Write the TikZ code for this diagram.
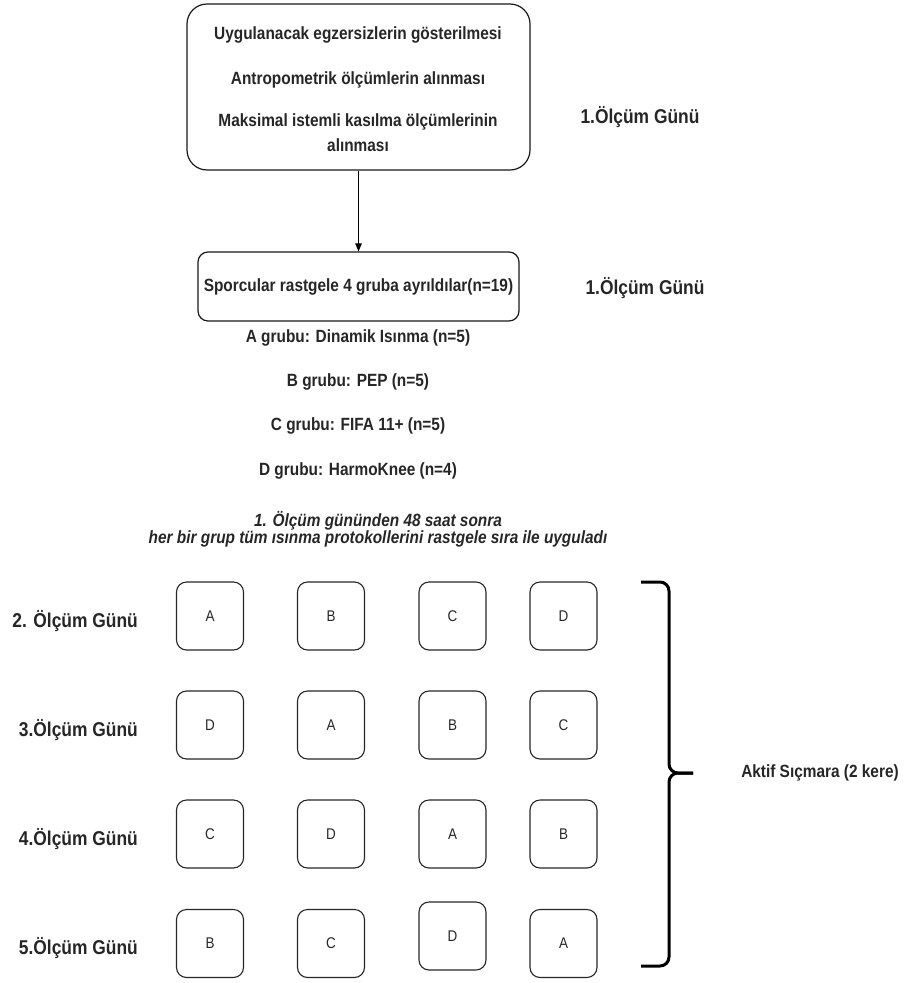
\documentclass[tikz,border=0pt]{standalone}
\usepackage{fontspec}
\setmainfont{Liberation Sans}[FakeStretch=0.87]
\usetikzlibrary{arrows.meta}
\begin{document}
\begin{tikzpicture}[x=1pt,y=-1pt,
  box/.style={draw=black!85, line width=1.1pt, rounded corners=10pt, minimum width=67pt, minimum height=68pt, inner sep=0pt, font=\fontsize{15.5}{18}\selectfont, text=black!85},
  bigbox/.style={draw=black!90, line width=1.2pt, inner sep=0pt},
  txt/.style={font=\fontsize{17.7}{21}\selectfont\bfseries, inner sep=0pt, text=black!85},
  day/.style={font=\fontsize{20}{24}\selectfont\bfseries, inner sep=0pt, text=black!85},
  itx/.style={font=\fontsize{17.7}{21}\selectfont\bfseries\itshape, inner sep=0pt, text=black!85},
  bracepath/.style={line width=3pt, rounded corners=9pt},
]
\useasboundingbox (0,0) rectangle (908,983);

% top box
\node[bigbox, rounded corners=20pt, minimum width=343pt, minimum height=166pt] (top) at (358.5,87) {};
\node[txt] (t1) at (358,35) {Uygulanacak egzersizlerin gösterilmesi};
\node[txt] (t2) at (358,80) {Antropometrik ölçümlerin alınması};
\node[txt] (t3) at (358,122) {Maksimal istemli kasılma ölçümlerinin};
\node[txt] (t4) at (358,145) {alınması};
\node[day] (d1) at (640,117) {1.Ölçüm Günü};

% group box
\node[bigbox, txt, rounded corners=10pt, minimum width=321pt, minimum height=69pt] (grp) at (358.5,286.5) {Sporcular rastgele 4 gruba ayrıldılar(n=19)};
\node[day] (d2) at (645,288) {1.Ölçüm Günü};
\draw[line width=1pt, -{Triangle[length=8pt,width=6.5pt]}] (top.south) -- (grp.north);

\node[txt] (ga) at (358,338) {A grubu: Dinamik Isınma (n=5)};
\node[txt] (gb) at (358,382) {B grubu: PEP (n=5)};
\node[txt] (gc) at (358,426) {C grubu: FIFA 11+ (n=5)};
\node[txt] (gd) at (358,471) {D grubu: HarmoKnee (n=4)};

\node[itx] (i1) at (378,521) {1. Ölçüm gününden 48 saat sonra};
\node[itx] (i2) at (378,539) {her bir grup tüm ısınma protokollerini rastgele sıra ile uyguladı};

% row labels
\node[day, anchor=east] (r2) at (138,621) {2. Ölçüm Günü};
\node[day, anchor=east] (r3) at (138,730) {3.Ölçüm Günü};
\node[day, anchor=east] (r4) at (138,839) {4.Ölçüm Günü};
\node[day, anchor=east] (r5) at (138,948) {5.Ölçüm Günü};

% grid
\node[box] (a1) at (210,616) {A};
\node[box] (b1) at (331,616) {B};
\node[box] (c1) at (452.5,616) {C};
\node[box] (d1b) at (563.5,616) {D};

\node[box] (a2) at (210,725) {D};
\node[box] (b2) at (331,725) {A};
\node[box] (c2) at (452.5,725) {B};
\node[box] (d2b) at (563.5,725) {C};

\node[box] (a3) at (210,834) {C};
\node[box] (b3) at (331,834) {D};
\node[box] (c3) at (452.5,834) {A};
\node[box] (d3b) at (563.5,834) {B};

\node[box] (a4) at (210,943.5) {B};
\node[box] (b4) at (331,943.5) {C};
\node[box] (c4) at (452.5,936) {D};
\node[box] (d4b) at (563.5,943.5) {A};

% brace
\coordinate (bt) at (641,582);
\coordinate (btc) at (669,582);
\coordinate (bm) at (669,773);
\coordinate (btip) at (693,773);
\coordinate (bb) at (641,966);
\coordinate (bbc) at (669,966);
\draw[bracepath] (bt) -- (btc) -- (bm) -- (btip);
\draw[bracepath] (bb) -- (bbc) -- (bm) -- (btip);
\node[txt] (akt) at (820,773) {Aktif Sıçmara (2 kere)};
\end{tikzpicture}
\end{document}
